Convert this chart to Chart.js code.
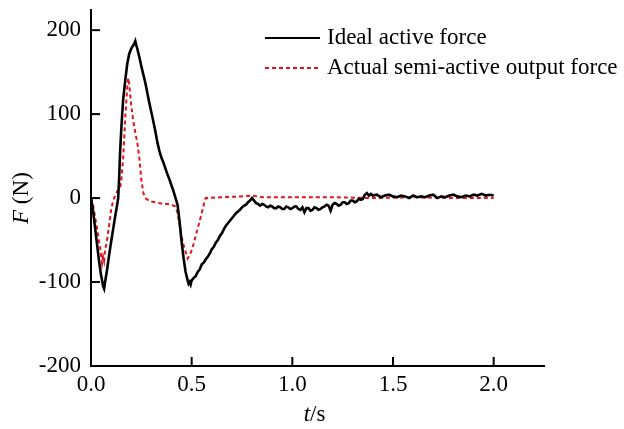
<!DOCTYPE html>
<html>
<head>
<meta charset="utf-8">
<script src="https://cdn.jsdelivr.net/npm/chart.js@4.4.1/dist/chart.umd.min.js"></script>
<style>
  html, body { margin: 0; padding: 0; background: #fff; }
  #wrap { width: 624px; height: 429px; }
</style>
</head>
<body>
<div id="wrap"><canvas id="c"></canvas></div>
<script>
//Data
    //Ideal active force (black)
        var tIdeal = [0.00, 0.01, 0.02, 0.03, 0.04, 0.05, 0.055, 0.06, 0.065, 0.07, 0.08, 0.09, 0.10, 0.11, 0.12, 0.13, 0.135,
            0.14, 0.145, 0.15, 0.155, 0.16, 0.17, 0.18, 0.19, 0.20, 0.21, 0.215, 0.22, 0.225, 0.23, 0.24, 0.25, 0.26, 0.27,
            0.28, 0.29, 0.30, 0.31, 0.32, 0.33, 0.34, 0.35, 0.36, 0.37, 0.38, 0.39, 0.40, 0.41, 0.42, 0.43, 0.44, 0.45,
            0.46, 0.47, 0.48, 0.485, 0.49, 0.495, 0.50, 0.51, 0.52, 0.53, 0.54, 0.55, 0.56, 0.57, 0.58, 0.59, 0.60, 0.61,
            0.62, 0.63, 0.64, 0.65, 0.66, 0.67, 0.68, 0.69, 0.70, 0.71, 0.72, 0.73, 0.74, 0.75, 0.76, 0.77, 0.78, 0.79,
            0.80, 0.81, 0.82, 0.83, 0.84, 0.85, 0.86, 0.87, 0.88, 0.89, 0.90, 0.91, 0.92, 0.93, 0.94, 0.95, 0.96, 0.97,
            0.98, 0.99, 1.00, 1.01, 1.02, 1.03, 1.04, 1.05, 1.06, 1.07, 1.08, 1.09, 1.10, 1.11, 1.12, 1.13, 1.14, 1.15,
            1.16, 1.17, 1.18, 1.19, 1.20, 1.21, 1.22, 1.23, 1.24, 1.25, 1.26, 1.27, 1.28, 1.29, 1.30, 1.31, 1.32, 1.33,
            1.34, 1.35, 1.36, 1.37, 1.38, 1.39, 1.40, 1.42, 1.44, 1.46, 1.48, 1.50, 1.52, 1.54, 1.56, 1.58, 1.60, 1.62,
            1.64, 1.66, 1.68, 1.70, 1.72, 1.74, 1.76, 1.78, 1.80, 1.82, 1.84, 1.86, 1.88, 1.90, 1.92, 1.94, 1.96, 1.98,
            2.00];
        var fIdeal = [0, -15, -35, -55, -75, -92, -98, -105, -108, -100, -85, -68, -52, -37, -22, -8, 0,
            25, 57, 80, 100, 118, 140, 160, 172, 178, 182, 184, 187, 182, 178, 168, 157, 147, 137,
            125, 113, 102, 91, 79, 66, 56, 48, 42, 35, 28, 22, 15, 8, 0, -8, -28, -52,
            -72, -88, -98, -102, -100, -103, -98, -95, -93, -88, -85, -79, -77, -73, -70, -66, -61, -58,
            -53, -50, -45, -42, -37, -33, -30, -27, -24, -21, -18, -16, -14, -11, -9, -8, -5, -3,
            0, -3, -6, -7, -9, -7, -8, -10, -11, -9, -10, -12, -12, -10, -11, -13, -13, -10,
            -11, -13, -12, -10, -10, -13, -14, -11, -17, -12, -12, -15, -14, -11, -12, -14, -13, -11,
            -10, -8, -9, -15, -8, -6, -7, -9, -8, -5, -5, -7, -6, -3, -3, -5, -4, -1,
            -2, -1, 4, 6, 3, 5, 3, 4, 1, 3, 4, 2, 1, 3, 2, 0, 3, 1,
            2, 1, 3, 4, 0, 2, 1, 3, 4, 2, 1, 3, 2, 4, 3, 5, 3, 4,
            3];
    //Actual semi-active output force (red)
        var tActual = [0.00, 0.01, 0.02, 0.03, 0.04, 0.045, 0.05, 0.055, 0.06, 0.065, 0.07, 0.08, 0.09, 0.10, 0.11, 0.12,
            0.13, 0.14, 0.145, 0.15, 0.16, 0.17, 0.18, 0.185, 0.19, 0.195, 0.20, 0.21, 0.22, 0.23, 0.24, 0.25, 0.26, 0.27,
            0.28, 0.30, 0.32, 0.34, 0.36, 0.38, 0.40, 0.42, 0.43, 0.44, 0.45, 0.46, 0.47, 0.48, 0.49, 0.50, 0.51, 0.52,
            0.53, 0.54, 0.55, 0.56, 0.57, 0.65, 0.75, 0.80, 0.85, 1.00, 1.20, 1.40, 1.60, 1.80, 2.00];
        var fActual = [0, -8, -22, -36, -52, -58, -68, -78, -70, -75, -62, -50, -32, -14, -3, 3,
            8, 11, 13, 20, 48, 95, 132, 143, 135, 122, 110, 92, 78, 66, 48, 22, 6, 0,
            -2, -4, -5, -6, -7, -7, -8, -10, -18, -32, -46, -56, -64, -72, -68, -62, -54, -45,
            -36, -27, -18, -8, 0, 1, 2, 3, 1, 1, 1, 0, 1, 0, 0];
    //Axes
        var xTicks = [0, 0.5, 1.0, 1.5, 2.0];
        var yTicks = [-200, -100, 0, 100, 200];
        var seriesNames = ["Ideal active force", "Actual semi-active output force"];

//Build points from the arrays
    function toPts(tx, fy){
        var out = [];
        for(var i = 0; i < tx.length; i++) out.push({x: tx[i], y: fy[i]});
        return out;
    }

    var FONT = "'Liberation Serif', 'Times New Roman', serif";
    var RED = '#e3151b';
    var FS = 23;

//Plugin: inward ticks, axis titles and legend
    var extras = {
        id: 'extras',
        afterDraw: function(chart){
            var ctx = chart.ctx, xs = chart.scales.x, ys = chart.scales.y;
            var area = chart.chartArea;
            ctx.save();
            ctx.strokeStyle = '#000';
            ctx.lineWidth = 2;
            //ticks pointing inside
                xTicks.forEach(function(v){
                    var px = xs.getPixelForValue(v);
                    ctx.beginPath(); ctx.moveTo(px, area.bottom); ctx.lineTo(px, area.bottom - 9); ctx.stroke();
                });
                yTicks.forEach(function(v){
                    var py = ys.getPixelForValue(v);
                    ctx.beginPath(); ctx.moveTo(area.left, py); ctx.lineTo(area.left + 9, py); ctx.stroke();
                });
            //x title: t/s
                ctx.fillStyle = '#000';
                ctx.textBaseline = 'middle';
                var cx = (xs.getPixelForValue(0) + xs.getPixelForValue(2.25)) / 2 - 3;
                var it = 'italic ' + FS + 'px ' + FONT, rg = FS + 'px ' + FONT;
                ctx.font = it; var w1 = ctx.measureText('t').width;
                ctx.font = rg; var w2 = ctx.measureText('/s').width;
                var sx = cx - (w1 + w2) / 2;
                ctx.font = it; ctx.textAlign = 'left'; ctx.fillText('t', sx, 415);
                ctx.font = rg; ctx.fillText('/s', sx + w1, 415);
            //y title: F (N)
                ctx.save();
                ctx.translate(22, ys.getPixelForValue(0));
                ctx.rotate(-Math.PI / 2);
                ctx.font = it; var w3 = ctx.measureText('F').width;
                ctx.font = rg; var w4 = ctx.measureText(' (N)').width;
                var sy = -(w3 + w4) / 2;
                ctx.font = it; ctx.fillText('F', sy, 0);
                ctx.font = rg; ctx.fillText(' (N)', sy + w3, 0);
                ctx.restore();
            //legend
                var rows = [{y: 38, color: '#000', dash: []}, {y: 68, color: RED, dash: [4, 3]}];
                rows.forEach(function(r, i){
                    ctx.strokeStyle = r.color;
                    ctx.setLineDash(r.dash);
                    ctx.beginPath(); ctx.moveTo(265, r.y); ctx.lineTo(320, r.y); ctx.stroke();
                    ctx.setLineDash([]);
                    ctx.font = rg; ctx.fillStyle = '#000';
                    ctx.fillText(seriesNames[i], 327, r.y);
                });
            ctx.restore();
        }
    };

    new Chart(document.getElementById('c'), {
        type: 'line',
        data: {
            datasets: [
                {
                    label: seriesNames[0], data: toPts(tIdeal, fIdeal),
                    borderColor: '#000', borderWidth: 2.6, pointRadius: 0, tension: 0
                },
                {
                    label: seriesNames[1], data: toPts(tActual, fActual),
                    borderColor: RED, borderWidth: 2, borderDash: [4, 3], pointRadius: 0, tension: 0
                }
            ]
        },
        options: {
            responsive: true,
            maintainAspectRatio: false,
            animation: false,
            layout: {padding: {top: 10, right: 80, left: 0, bottom: 0}},
            plugins: {legend: {display: false}, tooltip: {enabled: false}},
            scales: {
                x: {
                    type: 'linear', min: 0, max: 2.25,
                    afterBuildTicks: function(s){ s.ticks = xTicks.map(function(v){ return {value: v}; }); },
                    afterFit: function(s){ s.height = 63; s.paddingLeft = 0; s.paddingRight = 0; },
                    grid: {drawOnChartArea: false, drawTicks: false},
                    border: {display: true, color: '#000', width: 2},
                    ticks: {
                        color: '#000', padding: 5, maxRotation: 0,
                        font: {family: FONT, size: FS},
                        callback: function(v){ return v.toFixed(1); }
                    }
                },
                y: {
                    type: 'linear', min: -200, max: 224,
                    afterBuildTicks: function(s){ s.ticks = yTicks.map(function(v){ return {value: v}; }); },
                    afterFit: function(s){ s.width = 91; s.paddingTop = 0; s.paddingBottom = 0; },
                    grid: {drawOnChartArea: false, drawTicks: false},
                    border: {display: true, color: '#000', width: 2},
                    ticks: {
                        color: '#000', padding: 10,
                        font: {family: FONT, size: FS},
                        callback: function(v){ return String(v); }
                    }
                }
            }
        },
        plugins: [extras]
    });
</script>
</body>
</html>
